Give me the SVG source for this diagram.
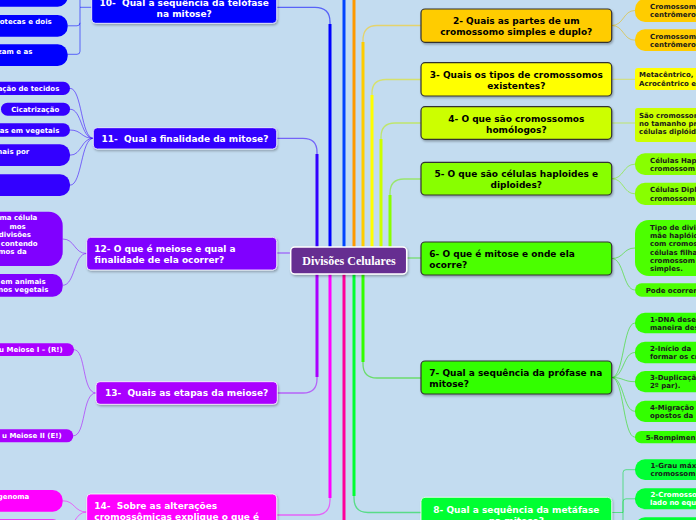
<svg xmlns="http://www.w3.org/2000/svg" width="696" height="520" viewBox="0 0 696 520">
<defs>
<filter id="sh" x="-10%" y="-30%" width="120%" height="160%">
<feDropShadow dx="1" dy="1.5" stdDeviation="0.8" flood-color="#000" flood-opacity="0.3"/>
</filter>
<style>
.t{font-family:"DejaVu Sans",Verdana,sans-serif;font-weight:bold;font-size:9px}
.c{font-family:"DejaVu Sans",Verdana,sans-serif;font-weight:bold;font-size:7px}
.w{fill:#fff}
.k{fill:#000}
.d{fill:#1a1a1a}
.mid{text-anchor:middle}
.end{text-anchor:end}
.pre{white-space:pre}
.nd{stroke:#333;stroke-width:1.2;filter:url(#sh)}
.nw{stroke:#fff;stroke-opacity:0.8;stroke-width:1;filter:url(#sh)}
.thin{fill:none;stroke-width:1.3;stroke-opacity:0.55}
.thick{fill:none;stroke-width:3}
.cl{fill:none;stroke-width:1;stroke-opacity:0.55}
</style>
</defs>
<rect x="0" y="0" width="696" height="520" fill="#c3dcf0"/>

<g id="connectors">
  <!-- main branches: thin full path + thick trunk -->
  <path class="thin" stroke="#0044ff" d="M344,260 V-5"/>
  <path class="thick" stroke="#0044ff" d="M344,260 V-5"/>
  <path class="thin" stroke="#ff9900" d="M354,260 V-5"/>
  <path class="thick" stroke="#ff9900" d="M354,260 V-5"/>
  <path class="thin" stroke="#0000ff" d="M330,260 V22 Q330,7.3 315,7.3 H277"/>
  <path class="thick" stroke="#0000ff" d="M330,260 V24"/>
  <path class="thin" stroke="#3300ff" d="M317,260 V152 Q317,138.3 303,138.3 H277"/>
  <path class="thick" stroke="#3300ff" d="M317,260 V154"/>
  <path class="thin" stroke="#8000ff" d="M291,253 H277"/>
  <path class="thin" stroke="#aa00ff" d="M317,260 V379 Q317,393 303,393 H277"/>
  <path class="thick" stroke="#aa00ff" d="M317,260 V377"/>
  <path class="thin" stroke="#ff00ff" d="M330,260 V500 Q330,515 315,515 H277"/>
  <path class="thick" stroke="#ff00ff" d="M330,260 V498"/>
  <path class="thin" stroke="#ff0099" d="M344,260 V525"/>
  <path class="thick" stroke="#ff0099" d="M344,260 V525"/>
  <path class="thin" stroke="#ffcc00" d="M363,260 V40 Q363,25.5 377,25.5 H421"/>
  <path class="thick" stroke="#ffcc00" d="M363,260 V42"/>
  <path class="thin" stroke="#e6e600" d="M372,260 V93 Q372,79.5 386,79.5 H421"/>
  <path class="thick" stroke="#ffff00" d="M372,260 V95"/>
  <path class="thin" stroke="#bbee00" d="M381,260 V137 Q381,123 395,123 H421"/>
  <path class="thick" stroke="#ccff00" d="M381,260 V139"/>
  <path class="thin" stroke="#77ee00" d="M390,260 V193 Q390,179 404,179 H421"/>
  <path class="thick" stroke="#88ff00" d="M390,260 V195"/>
  <path class="thin" stroke="#33dd00" d="M407,258 H421"/>
  <path class="thin" stroke="#22dd00" d="M363,260 V364 Q363,378 377,378 H421"/>
  <path class="thick" stroke="#33ff00" d="M363,260 V362"/>
  <path class="thin" stroke="#00dd33" d="M354,260 V498 Q354,512.5 368,512.5 H421"/>
  <path class="thick" stroke="#00ff33" d="M354,260 V496"/>

  <!-- child connectors right -->
  <path class="cl" stroke="#e6b800" d="M611.7,25.5 C624,25.5 623,10.5 635,10.5 M611.7,25.5 C624,25.5 623,40.2 635,40.2"/>
  <path class="cl" stroke="#e6e600" d="M611.7,79.3 H635"/>
  <path class="cl" stroke="#bbee00" d="M611.7,123 H635"/>
  <path class="cl" stroke="#77ee00" d="M611.7,178.7 C624,178.7 623,164.2 635,164.2 M611.7,178.7 C624,178.7 623,193.8 635,193.8"/>
  <path class="cl" stroke="#33dd00" d="M611.7,258.5 C624,258.5 623,248 635,248 M611.7,258.5 C624,258.5 623,290 635,290"/>
  <path class="cl" stroke="#22dd00" d="M611.7,377.5 C624,377.5 623,323 635,323 M611.7,377.5 C624,377.5 623,352.5 635,352.5 M611.7,377.5 C624,377.5 623,381.7 635,381.7 M611.7,377.5 C624,377.5 623,411.3 635,411.3 M611.7,377.5 C624,377.5 623,437.2 635,437.2"/>
  <path class="cl" stroke="#00dd33" stroke-opacity="0.8" d="M611.7,512.5 H623 V472.7 Q623,469.7 626,469.7 H635 M623,512.5 V501.8 Q623,498.8 626,498.8 H635 M623,512.5 V524.8 Q623,527.8 626,527.8 H635"/>

  <!-- child connectors left -->
  <path class="cl" stroke="#0000ff" stroke-opacity="0.8" d="M91.7,7.3 H80 V-3 Q80,-6 77,-6 H67.7 M80,7.3 V22.8 Q80,25.8 77,25.8 H67.7 M80,22.8 V51.3 Q80,54.3 77,54.3 H67.7"/>
  <path class="cl" stroke="#3300ff" d="M93.3,138.3 C81,138.3 82,88.3 70,88.3 M93.3,138.3 C81,138.3 82,109.2 70,109.2 M93.3,138.3 C81,138.3 82,130 70,130 M93.3,138.3 C81,138.3 82,155.2 70,155.2 M93.3,138.3 C81,138.3 82,185.2 70,185.2"/>
  <path class="cl" stroke="#8000ff" d="M86.7,253.5 C74,253.5 75,239 62.7,239 M86.7,253.5 C74,253.5 75,285.3 62.7,285.3"/>
  <path class="cl" stroke="#aa00ff" d="M96,393 C82,393 86,349.7 74,349.7 M96,393 C82,393 86,435.8 73.3,435.8"/>
  <path class="cl" stroke="#ff00ff" d="M86.7,512 C74,512 75,500.8 62.7,500.8 M86.7,512 C74,512 75,530 62.7,530"/>
</g>

<!-- center -->
<g id="center">
  <rect x="290.7" y="247" width="116" height="27" rx="4" fill="#662d91" stroke="#fff" stroke-width="1.5" filter="url(#sh)"/>
  <text x="349" y="264.5" text-anchor="middle" font-family="Liberation Serif, serif" font-weight="bold" font-size="12" fill="#fff">Divisões Celulares</text>
</g>

<!-- right side nodes -->
<g id="n2">
  <rect class="nd" x="421" y="9" width="190.7" height="33.3" rx="4" fill="#ffcc00"/>
  <text class="t k mid" x="516.3" y="24">2- Quais as partes de um</text>
  <text class="t k mid" x="516.3" y="35">cromossomo simples e duplo?</text>
</g>
<g id="n2a">
  <rect x="635" y="-1" width="90" height="23" rx="10" fill="#ffcc00"/>
  <text class="c d" x="650" y="8.9">Cromossomo</text>
  <text class="c d" x="650" y="17.2">centrômero</text>
</g>
<g id="n2b">
  <rect x="635" y="29.3" width="90" height="21.7" rx="10" fill="#ffcc00"/>
  <text class="c d" x="650" y="38.5">Cromossomo</text>
  <text class="c d" x="650" y="46.8">centrômero</text>
</g>

<g id="n3">
  <rect class="nd" x="421" y="62.7" width="190.7" height="33.3" rx="4" fill="#ffff00"/>
  <text class="t k mid" x="516.3" y="77.7">3- Quais os tipos de cromossomos</text>
  <text class="t k mid" x="516.3" y="88.7">existentes?</text>
</g>
<g id="n3a">
  <rect x="635" y="68" width="90" height="22" rx="3" fill="#ffff00"/>
  <text class="c d" x="639" y="77.4">Metacêntrico, S</text>
  <text class="c d" x="639" y="85.7">Acrocêntrico e</text>
</g>

<g id="n4">
  <rect class="nd" x="421" y="106.7" width="190.7" height="32.6" rx="4" fill="#ccff00"/>
  <text class="t k mid" x="516.3" y="121.7">4- O que são cromossomos</text>
  <text class="t k mid" x="516.3" y="132.7">homólogos?</text>
</g>
<g id="n4a">
  <rect x="635" y="108" width="90" height="34" rx="3" fill="#ccff00"/>
  <text class="c d" x="639" y="118.2">São cromossom</text>
  <text class="c d" x="639" y="126">no tamanho pr</text>
  <text class="c d" x="639" y="133.8">células diplóid</text>
</g>

<g id="n5">
  <rect class="nd" x="421" y="162.3" width="190.7" height="32.7" rx="4" fill="#88ff00"/>
  <text class="t k mid" x="516.3" y="177.3">5- O que são células haploides e</text>
  <text class="t k mid" x="516.3" y="188.3">diploides?</text>
</g>
<g id="n5a">
  <rect x="635" y="153.3" width="90" height="21.7" rx="10" fill="#88ff00"/>
  <text class="c d" x="650" y="162.7">Células Hap</text>
  <text class="c d" x="650" y="170.9">cromossom</text>
</g>
<g id="n5b">
  <rect x="635" y="182.7" width="90" height="22.3" rx="10" fill="#88ff00"/>
  <text class="c d" x="650" y="192.3">Células Dipl</text>
  <text class="c d" x="650" y="200.5">cromossom</text>
</g>

<g id="n6">
  <rect class="nd" x="421" y="242" width="190.7" height="33" rx="4" fill="#4cff00"/>
  <text class="t k" x="429.3" y="257">6- O que é mitose e onde ela</text>
  <text class="t k" x="429.3" y="268">ocorre?</text>
</g>
<g id="n6a">
  <rect x="635" y="220" width="90" height="56" rx="14" fill="#4cff00"/>
  <text class="c d" x="650" y="229.7">Tipo de divi</text>
  <text class="c d" x="650" y="238">mãe haplóid</text>
  <text class="c d" x="650" y="246.3">com cromos</text>
  <text class="c d" x="650" y="254.6">células filha</text>
  <text class="c d" x="650" y="262.9">cromossom</text>
  <text class="c d" x="650" y="271.2">simples.</text>
</g>
<g id="n6b">
  <rect x="635" y="283.3" width="90" height="13.4" rx="6.7" fill="#4cff00"/>
  <text class="c d" x="645.7" y="292.5">Pode ocorrer</text>
</g>

<g id="n7">
  <rect class="nd" x="421" y="361" width="190.7" height="33" rx="4" fill="#33ff00"/>
  <text class="t k" x="429.3" y="376">7- Qual a sequência da prófase na</text>
  <text class="t k" x="429.3" y="387">mitose?</text>
</g>
<g id="n7a">
  <rect x="635" y="312.7" width="90" height="20.6" rx="10" fill="#33ff00"/>
  <text class="c d" x="650" y="321.5">1-DNA dese</text>
  <text class="c d" x="650" y="329.5">maneira des</text>
</g>
<g id="n7b">
  <rect x="635" y="341.7" width="90" height="21.6" rx="10" fill="#33ff00"/>
  <text class="c d" x="650" y="351">2-Início da</text>
  <text class="c d" x="650" y="359">formar os cr</text>
</g>
<g id="n7c">
  <rect x="635" y="371" width="90" height="21.3" rx="10" fill="#33ff00"/>
  <text class="c d" x="650" y="380.2">3-Duplicaçã</text>
  <text class="c d" x="650" y="388.2">2º par).</text>
</g>
<g id="n7d">
  <rect x="635" y="400.7" width="90" height="21.3" rx="10" fill="#33ff00"/>
  <text class="c d" x="650" y="409.8">4-Migração</text>
  <text class="c d" x="650" y="417.8">opostos da</text>
</g>
<g id="n7e">
  <rect x="635" y="431" width="90" height="12.3" rx="6.1" fill="#33ff00"/>
  <text class="c d" x="645.7" y="439.7">5-Rompimen</text>
</g>

<g id="n8">
  <rect class="nw" x="421" y="497.3" width="190.7" height="40" rx="4" fill="#00ff33"/>
  <text class="t w mid" x="516.3" y="512.5">8- Qual a sequência da metáfase</text>
  <text class="t w mid" x="516.3" y="523.5">na mitose?</text>
</g>
<g id="n8a">
  <rect x="635" y="459.3" width="90" height="20.7" rx="10" fill="#00ff33"/>
  <text class="c d" x="650.5" y="468.2">1-Grau máx</text>
  <text class="c d" x="650.5" y="476.2">cromossom</text>
</g>
<g id="n8b">
  <rect x="635" y="488.3" width="90" height="21" rx="10" fill="#00ff33"/>
  <text class="c w" x="650.5" y="497.3">2-Cromosso</text>
  <text class="c w" x="650" y="505.3">lado no equ</text>
</g>
<g id="n8c">
  <rect x="635" y="517.3" width="90" height="21" rx="10" fill="#00ff33"/>
</g>

<!-- left side nodes -->
<g id="n10">
  <rect class="nw" x="91.7" y="-10" width="185" height="33.3" rx="4" fill="#0000ff"/>
  <text class="t w mid pre" x="184.2" y="5.5">10-  Qual a sequência da telófase</text>
  <text class="t w mid" x="184.2" y="16.5">na mitose?</text>
</g>
<g id="n10a"><rect x="-20" y="-20" width="87.7" height="26.7" rx="10" fill="#0000ff"/></g>
<g id="n10b">
  <rect x="-20" y="15" width="87.7" height="21.7" rx="10" fill="#0000ff"/>
  <text class="c w end" x="51.7" y="24.2">otecas e dois</text>
</g>
<g id="n10c">
  <rect x="-20" y="44.3" width="87.7" height="21.7" rx="10" fill="#0000ff"/>
  <text class="c w end" x="32.3" y="54.2">zam e as</text>
</g>

<g id="n11">
  <rect class="nw" x="93.3" y="127.7" width="183.4" height="21.3" rx="4" fill="#3300ff"/>
  <text class="t w mid pre" x="185" y="141.5">11-  Qual a finalidade da mitose?</text>
</g>
<g id="n11a">
  <rect x="-20" y="81.7" width="90" height="13.3" rx="6.6" fill="#3300ff"/>
  <text class="c w end" x="59.3" y="90.8">ação de tecidos</text>
</g>
<g id="n11b">
  <rect x="1" y="102.7" width="69" height="13" rx="6.5" fill="#3300ff"/>
  <text class="c w end" x="59.3" y="111.7">Cicatrização</text>
</g>
<g id="n11c">
  <rect x="-20" y="123.3" width="90" height="13.4" rx="6.7" fill="#3300ff"/>
  <text class="c w end" x="59.3" y="132.5">as em vegetais</text>
</g>
<g id="n11d">
  <rect x="-20" y="144.3" width="90" height="21.7" rx="10" fill="#3300ff"/>
  <text class="c w end" x="29.3" y="154.2">nais por</text>
</g>
<g id="n11e"><rect x="-20" y="174.3" width="90" height="21.7" rx="10" fill="#3300ff"/></g>

<g id="n12">
  <rect class="nw" x="86.7" y="237.3" width="190" height="32.7" rx="4" fill="#8000ff"/>
  <text class="t w" x="94.3" y="251.5">12- O que é meiose e qual a</text>
  <text class="t w" x="94.3" y="262.5">finalidade de ela ocorrer?</text>
</g>
<g id="n12a">
  <rect x="-20" y="211.7" width="82.7" height="54.3" rx="14" fill="#8000ff"/>
  <text class="c w end" x="37.3" y="219.8">ma célula</text>
  <text class="c w end" x="25.7" y="228.5">mos</text>
  <text class="c w end" x="31" y="236.8">divisões</text>
  <text class="c w end" x="37.7" y="245.5">contendo</text>
  <text class="c w end" x="26.7" y="254.2">mos da</text>
</g>
<g id="n12b">
  <rect x="-20" y="274" width="82.7" height="22.7" rx="10" fill="#8000ff"/>
  <text class="c w end" x="45.7" y="284.2">em animais</text>
  <text class="c w end" x="48.3" y="291.8">nos vegetais</text>
</g>

<g id="n13">
  <rect class="nw" x="96" y="381.7" width="181.3" height="22.6" rx="4" fill="#aa00ff"/>
  <text class="t w mid pre" x="186.6" y="396.3">13-  Quais as etapas da meiose?</text>
</g>
<g id="n13a">
  <rect x="-20" y="343.3" width="94" height="12.7" rx="6.3" fill="#aa00ff"/>
  <text class="c w end" x="62.7" y="352.2">u Meiose I – (R!)</text>
</g>
<g id="n13b">
  <rect x="-20" y="429.3" width="93.3" height="13" rx="6.5" fill="#aa00ff"/>
  <text class="c w end" x="61.7" y="438.2">u Meiose II (E!)</text>
</g>

<g id="n14">
  <rect class="nw" x="86.7" y="494" width="190" height="40" rx="4" fill="#ff00ff"/>
  <text class="t w pre" x="94.3" y="508.5">14-  Sobre as alterações</text>
  <text class="t w" x="94.3" y="519.5">cromossômicas explique o que é</text>
</g>
<g id="n14a">
  <rect x="-20" y="490" width="82.7" height="21.7" rx="10" fill="#ff00ff"/>
  <text class="c w end" x="29.3" y="499.2">genoma</text>
</g>
<g id="n14b"><rect x="-20" y="519.3" width="82.7" height="20" rx="10" fill="#ff00ff"/></g>
</svg>
